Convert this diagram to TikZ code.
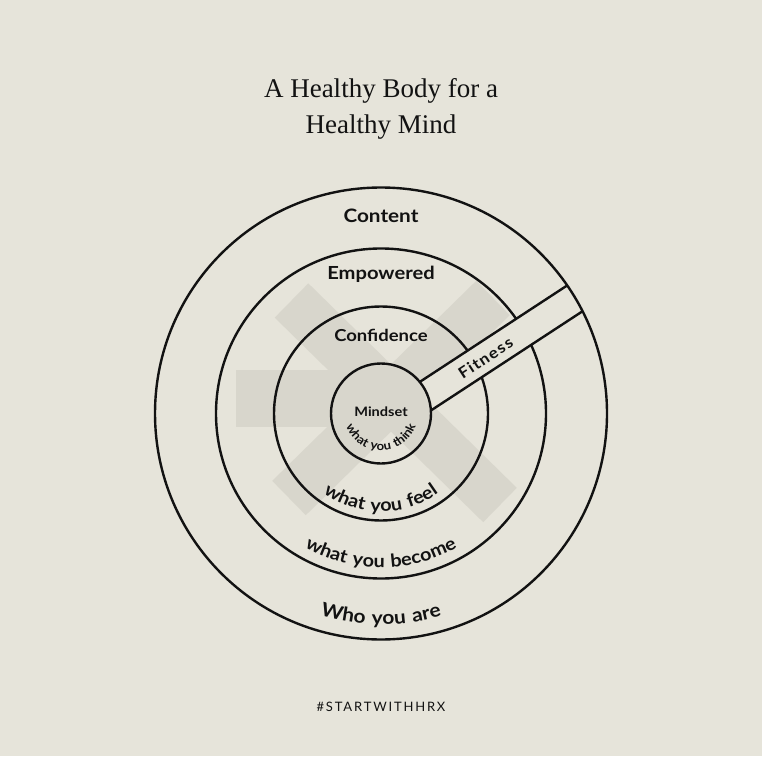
\documentclass[tikz,border=0pt]{standalone}
\usepackage{fontspec}
\setmainfont{Liberation Serif}
\newfontfamily\lab{Lato}[FakeStretch=1.12]
\newfontfamily\labsp{Lato}[FakeStretch=1.1, LetterSpace=8]
\newfontfamily\tagf{Lato}[LetterSpace=14]
\usetikzlibrary{decorations.text}
\definecolor{bg}{HTML}{E6E4DA}
\definecolor{wm}{HTML}{D8D6CC}
\definecolor{ink}{HTML}{121212}
\tikzset{
  ring/.style={draw=ink, line width=2.4pt},
  lbl/.style={text=ink, font=\lab\bfseries, inner sep=0pt, anchor=base},
}
\begin{document}
\begin{tikzpicture}[x=1pt,y=1pt]
\fill[bg] (0,0) rectangle (762,756);
\useasboundingbox (0,0) rectangle (762,756);
\coordinate (C) at (381,342.5);
% watermark
\draw[wm, line width=48pt] (291.5,455.5) -- (500,251);
\draw[wm, line width=48pt] (289,258) -- (493,458);
\fill[wm] (236,329) rectangle (381,386);
\begin{scope}[shift={(C)}]
  \draw[ring] (0,0) circle (165);
  \draw[ring] (0,0) circle (107);
  \begin{scope}[rotate=33.2]
    \fill[bg] (-29.75:50) arc[start angle=-29.75, end angle=5.97, radius=50]
      -- (1.32:226) arc[start angle=1.32, end angle=-6.3, radius=226] -- cycle;
    \draw[ring] (5.97:50) -- (1.32:226);
    \draw[ring] (-29.75:50) -- (-6.3:226);
    \node[lbl, transform shape, anchor=center, font=\labsp\bfseries\fontsize{15.5}{15.5}\selectfont] (fit) at (118,-10.5) {Fitness};
  \end{scope}
  \draw[ring] (0,0) circle (50);
  \draw[ring] (0,0) circle (226);
  % curved labels
  \path[decorate, decoration={text along path, text align=center,
    text={|\labsp\bfseries\fontsize{12}{12}\selectfont\color{ink}|what you think}}]
    (180:37) arc[start angle=180, end angle=360, radius=37];
  \path[decorate, decoration={text along path, text align=center,
    text={|\labsp\bfseries\fontsize{18}{18}\selectfont\color{ink}|what you feel}}]
    (180:98) arc[start angle=180, end angle=360, radius=98];
  \path[decorate, decoration={text along path, text align=center,
    text={|\labsp\bfseries\fontsize{18}{18}\selectfont\color{ink}|what you become}}]
    (180:154) arc[start angle=180, end angle=360, radius=154];
  \path[decorate, decoration={text along path, text align=center,
    text={|\labsp\bfseries\fontsize{19}{19}\selectfont\color{ink}|Who you are}}]
    (180:211) arc[start angle=180, end angle=360, radius=211];
\end{scope}
% straight labels
\node[lbl, font=\lab\bfseries\fontsize{18.5}{18.5}\selectfont] (content) at (381,533.5) {Content};
\node[lbl, font=\lab\bfseries\fontsize{18}{18}\selectfont] (empow) at (381,476) {Empowered};
\node[lbl, font=\lab\bfseries\fontsize{16.5}{16.5}\selectfont] (conf) at (381,414.3) {Confidence};
\node[lbl, font=\lab\bfseries\fontsize{13}{13}\selectfont] (mind) at (381,339.3) {Mindset};
% title
\node[text=ink, inner sep=0pt, anchor=base, font=\fontsize{27}{27}\selectfont] (t1) at (381,658.7) {A Healthy Body for a};
\node[text=ink, inner sep=0pt, anchor=base, font=\fontsize{27}{27}\selectfont] (t2) at (381,622.7) {Healthy Mind};
\node[text=ink, inner sep=0pt, anchor=base, font=\tagf\fontsize{13}{13}\selectfont] (tag) at (381,44.3) {\#STARTWITHHRX};
\end{tikzpicture}
\end{document}
